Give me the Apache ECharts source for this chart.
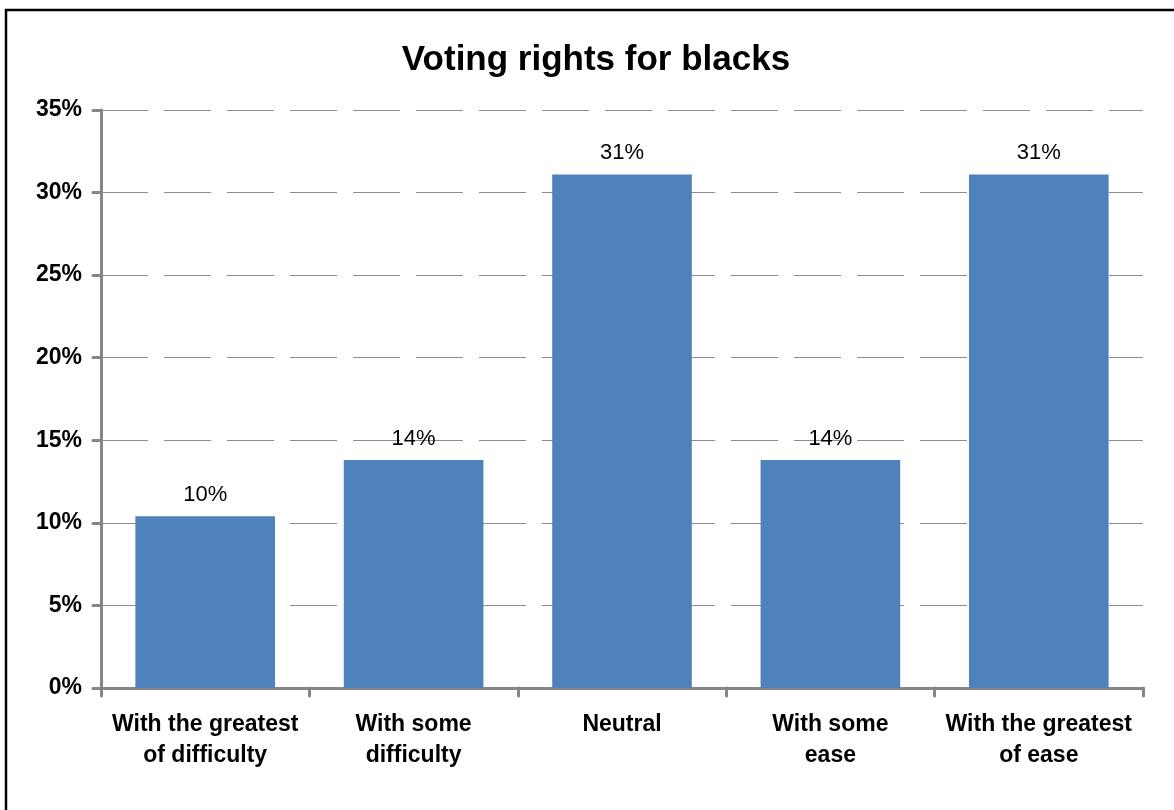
<!DOCTYPE html>
<html>
<head>
<meta charset="utf-8">
<script src="https://cdn.jsdelivr.net/npm/echarts@6/dist/echarts.min.js"></script>
<style>
  html, body { margin: 0; padding: 0; background: #fff; }
  #chart { width: 1174px; height: 810px; }
</style>
</head>
<body>
<div id="chart"></div>
<script>
// Survey answers: how easily blacks could exercise voting rights
const categories = [
  'With the greatest\nof difficulty',
  'With some\ndifficulty',
  'Neutral',
  'With some\nease',
  'With the greatest\nof ease'
];
const shares = [10.4, 13.8, 31.1, 13.8, 31.1]; // percent of respondents
const yTicks = [0, 5, 10, 15, 20, 25, 30, 35];

const FONT = 'Liberation Sans, Arial, sans-serif';
const chart = echarts.init(document.getElementById('chart'), null, { renderer: 'canvas' });

chart.setOption({
  animation: false,
  backgroundColor: '#ffffff',
  title: {
    text: 'Voting rights for blacks',
    left: 591,
    top: 38,
    textAlign: 'center',
    textStyle: { fontFamily: FONT, fontSize: 35, fontWeight: 'bold', color: '#000' }
  },
  graphic: [{
    type: 'rect',
    shape: { x: 6, y: 10, width: 1300, height: 900 },
    style: { fill: 'none', stroke: '#000', lineWidth: 2.5 },
    silent: true
  }],
  grid: { left: 101, right: 31, top: 110, bottom: 122, containLabel: false },
  xAxis: {
    type: 'category',
    data: categories,
    axisLine: { lineStyle: { color: '#868686', width: 3, cap: 'round' } },
    axisTick: { show: true, alignWithLabel: false, length: 8, lineStyle: { color: '#868686', width: 3, cap: 'round' } },
    axisLabel: {
      interval: 0,
      margin: 21,
      fontFamily: FONT,
      fontSize: 23,
      fontWeight: 'bold',
      color: '#000',
      lineHeight: 31
    }
  },
  yAxis: {
    type: 'value',
    min: yTicks[0],
    max: yTicks[yTicks.length - 1],
    interval: 5,
    axisLine: { show: true, lineStyle: { color: '#868686', width: 3, cap: 'round' } },
    axisTick: { show: true, length: 8, lineStyle: { color: '#868686', width: 3, cap: 'round' } },
    axisLabel: {
      margin: 19,
      fontFamily: FONT,
      fontSize: 23,
      fontWeight: 'bold',
      color: '#000',
      formatter: v => v + '%'
    },
    splitLine: {
      show: true,
      lineStyle: { color: '#8c8c8c', width: 1, type: [47, 16] }
    }
  },
  series: [{
    type: 'bar',
    data: shares,
    barCategoryGap: '33%',
    itemStyle: { color: '#4F81BD' },
    label: {
      show: true,
      position: 'top',
      distance: 10,
      fontFamily: FONT,
      fontSize: 22,
      color: '#000',
      formatter: p => Math.round(p.value) + '%'
    }
  }]
});
</script>
</body>
</html>
